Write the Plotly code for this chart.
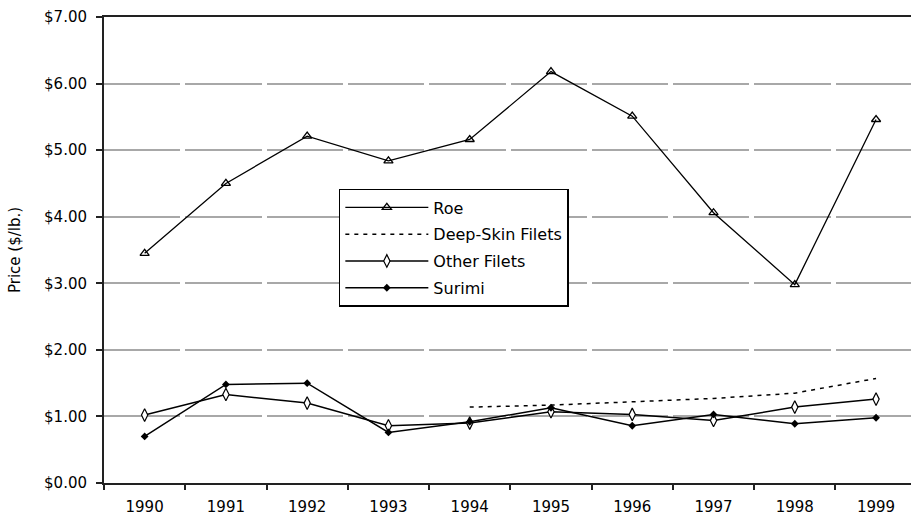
import plotly.graph_objects as go

years = ["1990", "1991", "1992", "1993", "1994", "1995", "1996", "1997", "1998", "1999"]
roe = [3.45, 4.50, 5.21, 4.84, 5.16, 6.18, 5.51, 4.06, 2.98, 5.46]
deep_skin_years = ["1994", "1995", "1996", "1997", "1998", "1999"]
deep_skin = [1.14, 1.17, 1.22, 1.27, 1.35, 1.57]
other_fillets = [1.02, 1.33, 1.20, 0.86, 0.90, 1.07, 1.03, 0.94, 1.14, 1.26]
surimi = [0.70, 1.48, 1.50, 0.76, 0.92, 1.13, 0.86, 1.03, 0.89, 0.98]
y_ticks = [0, 1, 2, 3, 4, 5, 6, 7]
y_tick_text = ["$0.00", "$1.00", "$2.00", "$3.00", "$4.00", "$5.00", "$6.00", "$7.00"]

FONT = "DejaVu Sans, Verdana, sans-serif"

fig = go.Figure()
fig.add_trace(go.Scatter(
    x=years, y=roe, name="Roe", mode="lines+markers", legendgroup="a",
    line=dict(color="black", width=1.3),
    marker=dict(symbol="triangle-up-open", size=8, color="black", line=dict(width=1.3)),
))
fig.add_trace(go.Scatter(
    x=deep_skin_years, y=deep_skin, name="Deep-Skin Filets", mode="lines", legendgroup="b",
    line=dict(color="black", width=1.5, dash="4px,5px"),
))
fig.add_trace(go.Scatter(
    x=years, y=other_fillets, name="Other Filets", mode="lines+markers", legendgroup="c",
    line=dict(color="black", width=1.5),
    marker=dict(symbol="diamond-tall", size=9, color="white", line=dict(color="black", width=1.2)),
))
fig.add_trace(go.Scatter(
    x=years, y=surimi, name="Surimi", mode="lines+markers", legendgroup="d",
    line=dict(color="black", width=1.5),
    marker=dict(symbol="diamond", size=6, color="black"),
))

fig.update_layout(
    width=911, height=525,
    margin=dict(l=104, r=0, t=17, b=42),
    paper_bgcolor="white", plot_bgcolor="white",
    font=dict(family=FONT, size=15, color="black"),
    showlegend=True,
    legend=dict(
        x=0.291, y=0.631, xanchor="left", yanchor="top",
        bgcolor="white", bordercolor="black", borderwidth=1.5,
        font=dict(size=16), traceorder="grouped", tracegroupgap=3,
        itemwidth=83,
    ),
    xaxis=dict(
        type="category", range=[-0.5, 9.43],
        showline=True, linecolor="#222", linewidth=2, mirror=True,
        showgrid=False, ticks="outside", tickson="boundaries",
        ticklen=5, tickwidth=2, tickcolor="#222",
        ticklabelstandoff=9, tickfont=dict(size=15),
    ),
    yaxis=dict(
        range=[0, 7], tickvals=y_ticks, ticktext=y_tick_text,
        showline=True, linecolor="#222", linewidth=2,
        showgrid=True, gridcolor="#a8a8a8", gridwidth=1.5, griddash="76.3px,5px",
        ticks="outside", ticklen=6, tickcolor="#222", tickwidth=2,
        ticklabelstandoff=6, tickfont=dict(size=15),
        zeroline=False,
        title=dict(text="Price ($/lb.)", font=dict(size=15), standoff=20),
    ),
)

fig.write_html("out.html")
